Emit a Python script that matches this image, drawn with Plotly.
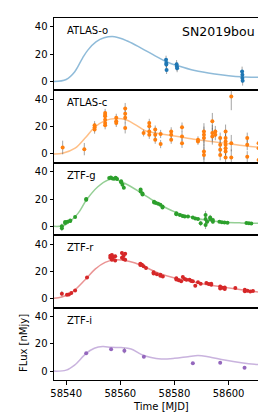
import plotly.graph_objects as go
from plotly.subplots import make_subplots

# ---------------- data ----------------
bands = ["ATLAS-o", "ATLAS-c", "ZTF-g", "ZTF-r", "ZTF-i"]
colors = ["#1f77b4", "#ff7f0e", "#2ca02c", "#d62728", "#9467bd"]
curve_colors = ["rgba(31,119,180,0.5)", "rgba(255,127,14,0.5)", "rgba(44,160,44,0.5)",
                "rgba(214,39,40,0.5)", "rgba(148,103,189,0.5)"]

o_mjd = [58576.9, 58577.0, 58577.0, 58577.1, 58580.8, 58580.9, 58581.0,
         58605.0, 58605.1, 58605.1, 58605.2, 58613.0, 58613.1]
o_flux = [15.9, 13.5, 12.5, 8.5, 12.7, 11.0, 9.8, 7.4, 4.9, 2.5, 0.5, 2.5, -2.0]
o_err = [3, 3, 3, 3, 3, 3, 3, 3.5, 3.5, 3.5, 3.5, 3, 3]

c_mjd = [58538.7, 58546.7,
         58550.5, 58550.5, 58550.5,
         58554.4, 58554.4, 58554.4, 58554.4, 58554.4, 58554.4,
         58558.5, 58558.5, 58558.5,
         58561.8, 58561.8, 58561.8, 58561.8,
         58568.6,
         58570.7, 58570.7, 58570.7, 58570.7,
         58572.9, 58572.9, 58572.9,
         58574.9, 58574.9,
         58578.8, 58578.8, 58578.8,
         58582.8, 58582.8, 58582.8,
         58588.7, 58588.7,
         58590.9, 58590.9, 58590.9, 58590.9, 58590.9,
         58594.0, 58594.0, 58594.0,
         58595.1, 58595.1,
         58596.9, 58596.9, 58596.9, 58596.9,
         58598.9, 58598.9, 58598.9, 58598.9, 58598.9, 58598.9, 58598.9,
         58601.0, 58601.0, 58601.0,
         58606.9, 58606.9, 58606.9,
         58611.1, 58611.1, 58611.1]
c_flux = [4.7, 3.5,
          21.0, 19.5, 17.8,
          30.0, 28.5, 27.5, 25.0, 22.7, 21.0,
          26.4, 24.0, 22.7,
          33.3, 29.4, 26.4, 19.0,
          15.3,
          22.7, 20.2, 16.5, 14.0,
          17.8, 14.0, 10.4,
          14.6, 7.2,
          16.5, 14.0, 10.4,
          19.5, 12.8, 7.9,
          10.4, 9.1,
          16.5, 14.0, 11.6, 1.7, -0.7,
          24.0, 15.3, 12.8,
          16.5, 14.0,
          11.6, 6.7, 3.0, -0.7,
          16.5, 11.6, 9.1, 6.7, 4.2, 1.7, -2.7,
          42.0, 7.9, -2.7,
          11.6, 6.7, -2.0,
          7.9, 4.2, -4.4]
c_err = [5, 4.5,
         3, 3, 3,
         3, 3, 3, 3, 3, 3,
         3, 3, 3,
         4, 4, 4, 4,
         2.5,
         3, 3, 3, 3,
         3, 3, 3,
         3, 3,
         3, 3, 3,
         3.5, 3.5, 3.5,
         2.5, 2.5,
         6, 6, 6, 6, 6,
         6, 6, 6,
         4, 4,
         4, 4, 4, 4,
         5, 5, 5, 5, 5, 5, 5,
         10, 6, 6,
         4, 4, 4,
         4, 4, 4]

g_mjd = [58538.4, 58538.4, 58539.6, 58539.6, 58540.5, 58541.5, 58541.5, 58543.3,
         58547.4, 58547.4,
         58555.9, 58556.5, 58557.1, 58557.7, 58558.3, 58558.8,
         58560.3, 58560.3, 58560.8, 58561.3,
         58567.5, 58567.5, 58568.2, 58568.2,
         58572.5, 58572.5, 58573.2, 58574.0, 58574.8, 58575.6, 58575.6,
         58580.7, 58580.7, 58582.0, 58583.0, 58583.8, 58585.0, 58586.8, 58587.7, 58588.7,
         58589.7, 58591.5, 58591.5, 58591.5, 58592.1, 58593.2, 58593.2, 58594.2, 58594.2,
         58596.6, 58597.5, 58598.5, 58599.6,
         58606.6, 58607.5, 58608.4, 58612.7]
g_flux = [-1.5, 0.0, 2.5, 3.2, 3.4, 3.9, 4.3, 6.8,
          19.4, 20.0,
          35.3, 35.8, 35.0, 34.8, 35.5, 34.6,
          33.0, 32.3, 30.5, 28.2,
          27.0, 25.5, 24.0, 23.3,
          18.0, 17.5, 17.0, 16.5, 15.8, 14.5, 13.8,
          9.6, 8.8, 8.3, 7.6, 7.1, 7.1, 6.4, 5.8, 5.4,
          2.2, 8.3, 5.4, 1.0, 3.4, 6.4, 5.4, 4.7, 3.4,
          3.4, 3.0, 2.8, 2.7,
          2.5, 2.2, 2.0, 2.0]
g_err = [2, 2, 1.2, 1.2, 1, 1, 1, 1,
         1.2, 1.2,
         1, 1, 1, 1, 1, 1,
         1, 1, 1, 1,
         1, 1, 1, 1,
         1, 1, 1, 1, 1, 1, 1,
         1, 1, 1, 1, 1, 1, 1, 1, 1,
         2, 3, 3, 3, 2, 2, 2, 1.5, 1.5,
         0.8, 0.8, 0.8, 0.8,
         0.8, 0.8, 0.8, 0.8]

r_mjd = [58538.4, 58540.3, 58541.0, 58541.9, 58543.3, 58547.7,
         58556.3, 58556.3, 58556.9, 58556.9, 58556.9, 58557.5, 58558.1, 58558.1,
         58560.6, 58560.6, 58561.2, 58561.2, 58561.8, 58561.8,
         58567.4, 58567.4, 58568.0, 58568.6, 58569.5,
         58572.3, 58572.3, 58573.5, 58574.8, 58574.8, 58575.7,
         58580.7, 58580.7, 58581.6, 58582.5, 58583.1, 58583.8, 58584.4, 58585.6,
         58586.2, 58586.8, 58587.7, 58588.7, 58589.7,
         58591.8, 58592.7, 58593.6, 58593.6,
         58596.9, 58596.9, 58597.8, 58598.6, 58598.6, 58602.5,
         58606.0, 58606.0, 58607.0, 58608.0, 58609.0, 58612.7, 58612.7]
r_flux = [3.7, 2.9, 3.1, 4.1, 6.1, 15.6,
          30.0, 31.5, 29.0, 28.5, 32.0, 30.5, 31.0, 28.0,
          33.4, 30.0, 31.5, 29.0, 33.0, 28.5,
          25.6, 24.6, 24.8, 23.7, 22.4,
          19.3, 18.5, 18.0, 16.8, 17.5, 16.3,
          15.0, 14.0, 13.5, 12.7, 15.9, 14.5, 13.9, 13.9,
          12.9, 12.7, 9.5, 12.0, 11.0,
          11.5, 10.8, 10.2, 11.0,
          9.0, 7.5, 8.0, 7.1, 8.2, 7.8,
          6.6, 5.5, 5.8, 5.2, 5.7, 4.6, 3.4]
r_err = [2, 1, 1, 1, 1, 1,
         1.2, 1.2, 1.2, 1.2, 1.2, 1.2, 1.2, 1.2,
         1.2, 1.2, 1.2, 1.2, 1.2, 1.2,
         1, 1, 1, 1, 1,
         1, 1, 1, 1, 1, 1,
         1, 1, 1, 1, 1, 1, 1, 1,
         1, 1, 1, 1, 1,
         1, 1, 1, 1,
         1, 1, 1, 1, 1, 0.8,
         1, 1, 1, 1, 1, 1, 1]

i_mjd = [58547.4, 58556.6, 58561.5, 58568.7, 58586.8, 58596.9, 58605.9, 58613.0]
i_flux = [13.0, 16.0, 15.0, 10.5, 5.7, 6.2, 2.5, 3.2]
i_err = [1, 1, 2, 1, 0.8, 0.8, 0.8, 0.8]

o_model_t = [58535.5, 58540.0, 58543.1, 58546.0, 58548.0, 58551.0, 58554.0, 58557.9,
             58562.8, 58567.7, 58572.7, 58577.0, 58581.3, 58587.5, 58594.9, 58600.0,
             58604.7, 58610.0, 58614.3]
o_model_f = [0.0, 1.5, 7.0, 17.0, 23.0, 29.0, 32.0, 32.8,
             29.5, 24.5, 19.0, 14.5, 11.5, 8.0, 5.5, 4.3,
             3.5, 3.1, 3.0]

c_model_t = [58535.5, 58538.7, 58543.3, 58547.0, 58550.5, 58554.4, 58558.5, 58561.8,
             58565.5, 58569.2, 58572.9, 58580.0, 58586.2, 58592.0, 58598.5, 58605.9, 58614.3]
c_model_f = [0.0, 0.5, 4.2, 11.6, 19.5, 24.4, 25.9, 25.2,
             21.5, 17.0, 15.3, 13.2, 11.1, 9.5, 7.9, 5.9, 4.2]

g_model_t = [58535.5, 58539.4, 58544.3, 58547.4, 58551.7, 58555.4, 58557.9, 58561.6,
             58567.7, 58573.9, 58580.1, 58586.2, 58592.4, 58598.5, 58604.7, 58614.3]
g_model_f = [0.0, 0.8, 9.3, 19.1, 29.0, 33.8, 34.5, 31.5,
             24.5, 16.7, 10.6, 6.8, 4.2, 3.0, 2.5, 2.2]

r_model_t = [58535.5, 58538.4, 58542.1, 58547.0, 58550.7, 58554.4, 58558.1, 58561.8,
             58565.5, 58569.2, 58574.0, 58580.1, 58586.2, 58592.4, 58598.5, 58604.7,
             58610.9, 58614.3]
r_model_f = [0.3, 1.2, 4.6, 13.9, 21.7, 26.6, 28.5, 28.0,
             26.1, 23.2, 18.8, 15.1, 12.7, 10.2, 8.3, 6.6,
             4.9, 4.1]

i_model_t = [58535.5, 58540.0, 58543.1, 58547.4, 58550.4, 58553.5, 58556.6, 58560.3,
             58564.0, 58567.7, 58571.4, 58575.1, 58580.0, 58585.0, 58588.7, 58592.4,
             58598.5, 58604.7, 58609.6, 58614.3]
i_model_f = [0.0, 0.7, 4.4, 13.0, 16.7, 18.0, 17.4, 17.2,
             16.2, 12.3, 9.9, 8.9, 9.4, 10.6, 11.4, 10.6,
             8.2, 6.2, 5.0, 4.4]

x_ticks = [58540, 58560, 58580, 58600]
x_ticklabels = ["58540", "58560", "58580", "58600"]
y_ticks = [0, 20, 40]
y_ticklabels = ["0", "20", "40"]

obs = [(o_mjd, o_flux, o_err), (c_mjd, c_flux, c_err), (g_mjd, g_flux, g_err),
       (r_mjd, r_flux, r_err), (i_mjd, i_flux, i_err)]
models = [(o_model_t, o_model_f), (c_model_t, c_model_f), (g_model_t, g_model_f),
          (r_model_t, r_model_f), (i_model_t, i_model_f)]

# ---------------- figure ----------------
fig = make_subplots(rows=5, cols=1, shared_xaxes=True, vertical_spacing=0)

for k in range(5):
    mt, mf = models[k]
    fig.add_trace(go.Scatter(x=mt, y=mf, mode="lines", line_shape="spline",
                             line=dict(color=curve_colors[k], width=1.5),
                             showlegend=False, hoverinfo="skip"), row=k + 1, col=1)
    t, f, e = obs[k]
    fig.add_trace(go.Scatter(x=t, y=f, mode="markers",
                             marker=dict(color=colors[k], size=4),
                             error_y=dict(type="data", array=e, visible=True,
                                          color="rgba(90,90,90,0.55)", thickness=1, width=0),
                             showlegend=False), row=k + 1, col=1)
    fig.add_annotation(text=bands[k], xref=f"x{'' if k == 0 else k + 1} domain",
                       yref=f"y{'' if k == 0 else k + 1} domain", x=0.05, y=0.93,
                       xanchor="left", yanchor="top", showarrow=False,
                       font=dict(size=10, color="black"))

fig.add_annotation(text="SN2019bou", xref="x domain", yref="y domain", x=0.955, y=0.95,
                   xanchor="right", yanchor="top", showarrow=False,
                   font=dict(size=12.5, color="black"))

fig.add_annotation(text="FLux [nMjy]", xref="paper", yref="paper",
                   x=(15 - 46) / 213, y=(372 - 335) / 362,
                   xanchor="center", yanchor="middle", textangle=-90, showarrow=False,
                   font=dict(size=10, color="black"))

fig.add_annotation(text="Time [MJD]", xref="paper", yref="paper",
                   x=0.5, y=(372 - 398) / 362,
                   xanchor="center", yanchor="middle", showarrow=False,
                   font=dict(size=10, color="black"))

for k in range(1, 6):
    fig.update_yaxes(range=[-6.5, 46.5], tickvals=y_ticks, ticktext=y_ticklabels,
                     showline=True, mirror=True,
                     linecolor="black", linewidth=1, ticks="outside", ticklen=3.5,
                     tickwidth=1, tickcolor="black", showgrid=False, zeroline=False,
                     tickfont=dict(size=10, color="black"), row=k, col=1)
    fig.update_xaxes(range=[58535.5, 58614.2], tickvals=x_ticks, ticktext=x_ticklabels,
                     showline=True, mirror=True,
                     linecolor="black", linewidth=1, showgrid=False, zeroline=False,
                     ticks="outside" if k == 5 else "", ticklen=3.5, tickwidth=1,
                     tickcolor="black", showticklabels=(k == 5),
                     tickfont=dict(size=10, color="black"), row=k, col=1)

fig.update_layout(width=266, height=418, margin=dict(l=46, r=7, t=10, b=46),
                  plot_bgcolor="white", paper_bgcolor="white",
                  font=dict(family="DejaVu Sans", color="black"))

fig.write_html("out.html")
